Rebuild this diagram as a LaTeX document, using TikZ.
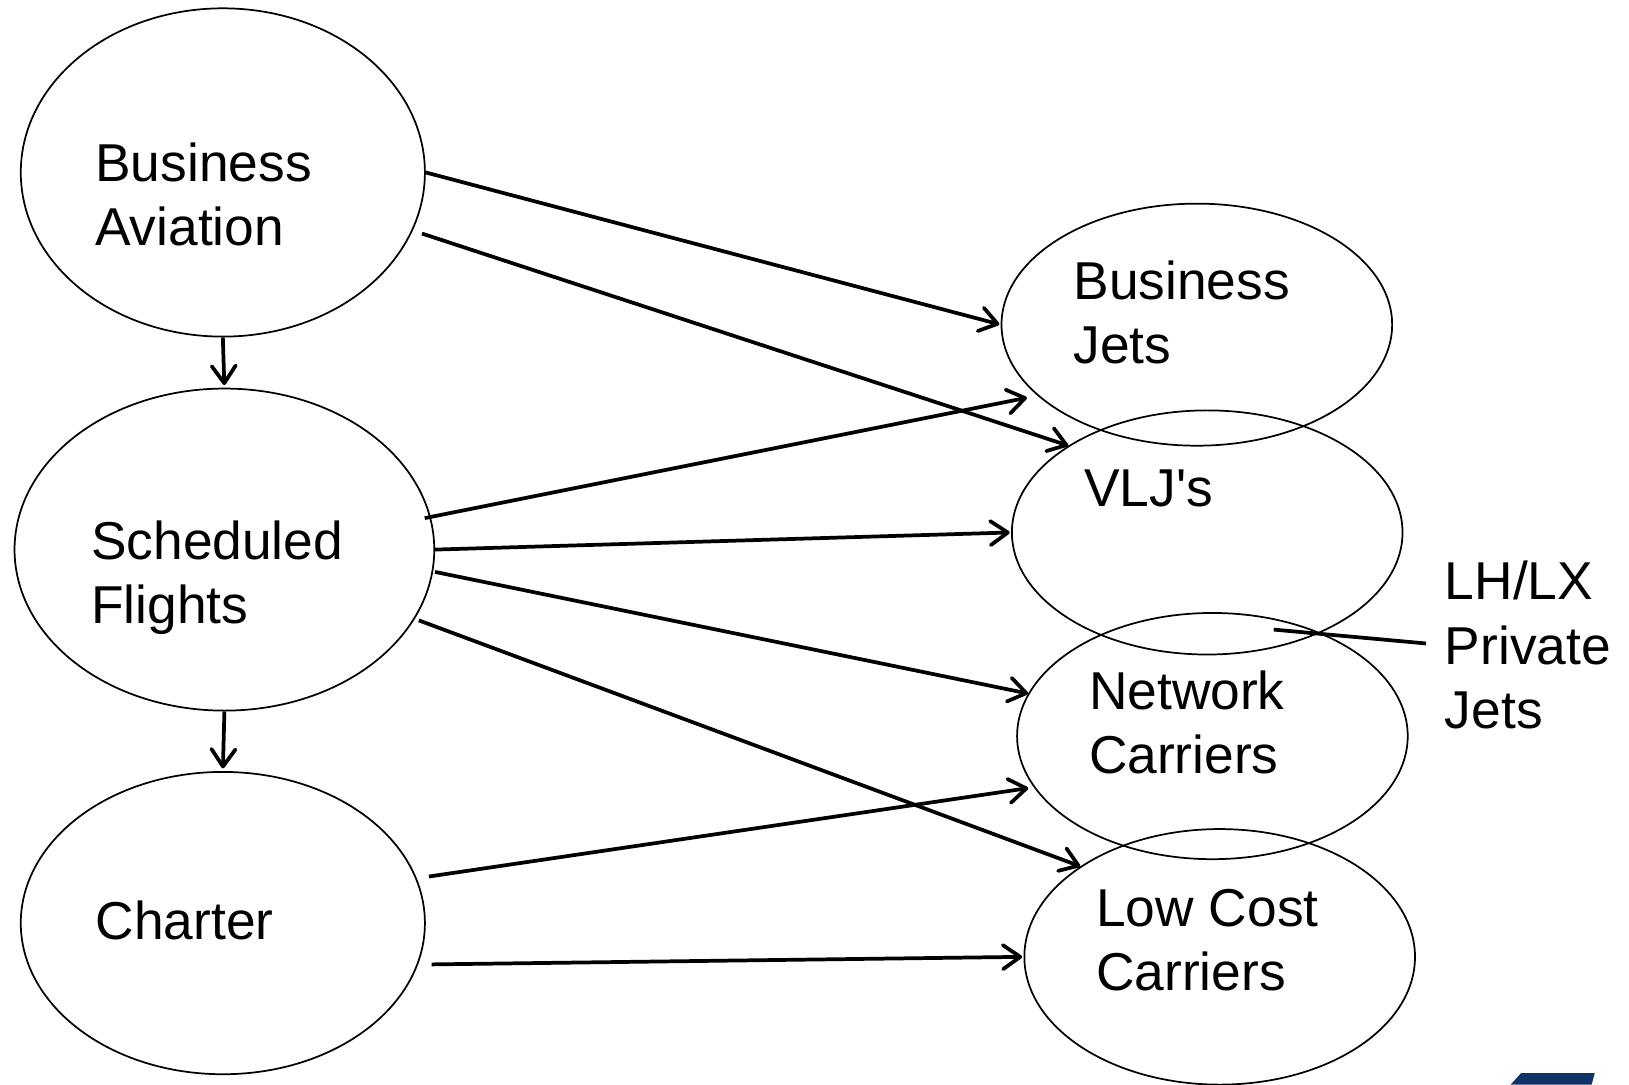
\documentclass[tikz,border=0pt]{standalone}
\usepackage{fontspec}
\setmainfont{Liberation Sans}
\usetikzlibrary{arrows.meta,shapes.geometric}
\definecolor{lhblue}{HTML}{0F3468}
\tikzset{
  oval/.style={ellipse,draw=black,line width=1.3pt,inner sep=0pt,fill=none},
  lbl/.style={anchor=west,inner sep=0pt,align=left,text=black,font=\fontsize{40}{48.3}\selectfont},
  conn/.style={draw=black,line width=2.8pt,-{Straight Barb[length=13pt,width=18pt,round,line width=2.8pt]}},
  plainconn/.style={draw=black,line width=2.8pt}
}
\newcommand{\myoval}[5]{\node[oval,minimum width=#4*2*0.7793pt,minimum height=#5*2*0.7793pt] (#1) at (#2,#3) {};}
\begin{document}
\begin{tikzpicture}[x=0.7793pt,y=-0.7793pt]
\useasboundingbox (0,0) rectangle (1568,1044);
\clip (0,0) rectangle (1568,1044);
\myoval{ba}{214.5}{166}{194.5}{158}
\myoval{sf}{216}{529}{202}{155}
\myoval{ch}{214.5}{888.5}{194.5}{145.5}
\myoval{bj}{1152}{312.5}{188}{116.5}
\myoval{vl}{1162}{512.5}{188}{117.5}
\myoval{nc}{1167}{708.5}{188}{118.5}
\myoval{lc}{1174}{921}{188}{123}
\node[lbl] (tba) at (91.5,187) {Business\\Aviation};
\node[lbl] (tsf) at (87.5,556) {Scheduled\\Flights};
\node[lbl] (tch) at (92,886) {Charter};
\node[lbl] (tbj) at (1033,301) {Business\\Jets};
\node[lbl] (tvl) at (1043.5,470) {VLJ\textquotesingle s};
\node[lbl] (tnc) at (1048,695.5) {Network\\Carriers};
\node[lbl] (tlc) at (1055,905) {Low Cost\\Carriers};
\node[lbl] (tlh) at (1390.5,621) {LH/LX\\Private\\Jets};
\coordinate (lhstart) at (1226,606);
\path[conn,shorten >=1pt] (ba.east) -- (bj.west);
\path[conn,shorten <=7.3pt] (ba.-17.1) -- (vl.148.4);
\path[conn,shorten >=2pt] (ba.south) -- (sf.north);
\path[conn,shorten <=-4.6pt,shorten >=8pt] (sf.9.9) -- (bj.204.0);
\path[conn,shorten >=1pt] (sf.east) -- (vl.west);
\path[conn,shorten <=1.4pt] (sf.-6.75) -- (nc.167.1);
\path[conn,shorten <=3.2pt] (sf.-20.34) -- (lc.147.3);
\path[conn,shorten >=2pt] (sf.south) -- (ch.north);
\path[conn,shorten <=9.2pt,shorten >=4.2pt] (ch.13.2) -- (nc.196.2);
\path[conn,shorten <=10.2pt,shorten >=1pt] (ch.-12.3) -- (lc.west);
\path[plainconn,shorten >=14pt] (lhstart) -- (tlh.west);
\fill[lhblue] (1464,1033) -- (1535,1033) -- (1532,1044) -- (1454,1044) -- cycle;
\end{tikzpicture}
\end{document}
